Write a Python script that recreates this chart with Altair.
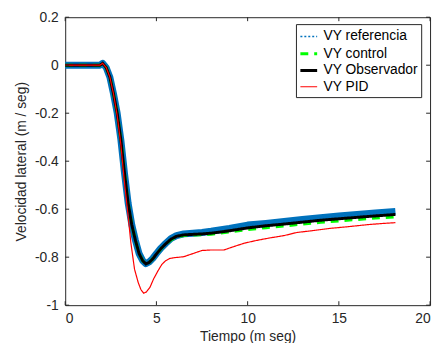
import altair as alt
import pandas as pd

# --- data ---
t_ref = [0, 1.0, 1.9, 2.05, 2.25, 2.45, 2.65, 2.85, 3.05, 3.25, 3.45, 3.65, 3.85, 4.05, 4.25, 4.42,
         4.6, 4.8, 5.0, 5.25, 5.5, 5.8, 6.1, 6.5, 7.0, 7.5, 8.0, 9.0, 10.0, 11.0, 12.0, 13.0, 14.0,
         15.0, 16.0, 17.0, 18.1]
vy_ref = [0, 0, 0, 0.008, -0.01, -0.05, -0.12, -0.20, -0.31, -0.45, -0.575, -0.665, -0.73, -0.785,
          -0.815, -0.827, -0.82, -0.805, -0.785, -0.762, -0.743, -0.722, -0.71, -0.703, -0.70,
          -0.697, -0.692, -0.68, -0.666, -0.659, -0.651, -0.643, -0.635, -0.628, -0.622, -0.616, -0.609]
vy_obs = [0, 0, 0, 0.008, -0.01, -0.05, -0.12, -0.20, -0.31, -0.45, -0.575, -0.665, -0.73, -0.785,
          -0.815, -0.828, -0.822, -0.807, -0.787, -0.764, -0.745, -0.725, -0.713, -0.707, -0.705,
          -0.703, -0.700, -0.690, -0.678, -0.669, -0.662, -0.654, -0.646, -0.640, -0.634, -0.628, -0.622]
vy_ctrl = [0, 0, 0, 0.008, -0.01, -0.05, -0.12, -0.20, -0.31, -0.45, -0.575, -0.665, -0.73, -0.785,
           -0.815, -0.828, -0.822, -0.807, -0.787, -0.765, -0.747, -0.728, -0.716, -0.71, -0.708,
           -0.707, -0.705, -0.695, -0.685, -0.677, -0.670, -0.662, -0.655, -0.649, -0.643, -0.637, -0.632]
t_pid = [0, 1.0, 1.9, 2.05, 2.25, 2.45, 2.65, 2.85, 3.05, 3.25, 3.45, 3.6, 3.8, 4.0, 4.15, 4.3, 4.45,
         4.65, 4.85, 5.1, 5.3, 5.5, 5.75, 6.0, 6.5, 7.0, 7.5, 8.0, 8.7, 9.2, 9.8, 10.5, 11.2, 12.0,
         12.7, 13.5, 14.5, 15.5, 16.5, 17.3, 18.1]
vy_pid = [0, 0, 0, 0.008, -0.01, -0.05, -0.12, -0.21, -0.33, -0.49, -0.63, -0.74, -0.85, -0.905,
          -0.935, -0.95, -0.945, -0.925, -0.89, -0.855, -0.83, -0.815, -0.805, -0.802, -0.798,
          -0.785, -0.772, -0.77, -0.77, -0.757, -0.742, -0.73, -0.72, -0.71, -0.697, -0.69, -0.68,
          -0.673, -0.665, -0.66, -0.656]

series = ["VY referencia", "VY control", "VY Observador", "VY PID"]
colors = ["#0072BD", "#00FF00", "#000000", "#FF0000"]
dashes = [[2, 2], [8, 6], [1, 0], [1, 0]]
widths = [1.5, 3, 3, 1.2]

x_ticks = [0, 5, 10, 15, 20]
y_ticks = [0.2, 0, -0.2, -0.4, -0.6, -0.8, -1]

frames = [
    pd.DataFrame({"t": t_ref, "v": vy_ref, "s": series[0]}),
    pd.DataFrame({"t": t_ref, "v": vy_ctrl, "s": series[1]}),
    pd.DataFrame({"t": t_ref, "v": vy_obs, "s": series[2]}),
    pd.DataFrame({"t": t_pid, "v": vy_pid, "s": series[3]}),
]

W, H = 370, 292
font = "Liberation Sans"

x_enc = alt.X("t:Q", scale=alt.Scale(domain=[0, 20], nice=False),
              axis=alt.Axis(values=x_ticks, format="d", title="Tiempo (m seg)", grid=False,
                            ticks=False, domain=False, labelPadding=7, titlePadding=4))
y_enc = alt.Y("v:Q", scale=alt.Scale(domain=[-1, 0.2], nice=False, zero=False),
              axis=alt.Axis(values=y_ticks, labelExpr="datum.value + ''",
                            title="Velocidad lateral (m / seg)", grid=False, ticks=False,
                            domain=False, labelPadding=7, titlePadding=6))

leg = alt.Legend(orient="none", legendX=234, legendY=7, title=None, strokeColor="#262626",
                 fillColor="white", padding=3, rowPadding=0, labelFontSize=14, labelFont=font,
                 labelColor="#000000", symbolType="stroke", symbolSize=289, labelOffset=5)

color_enc = alt.Color("s:N", scale=alt.Scale(type="ordinal", domain=series, range=colors), legend=leg)
dash_enc = alt.StrokeDash("s:N", scale=alt.Scale(type="ordinal", domain=series, range=dashes), legend=leg)
width_enc = alt.StrokeWidth("s:N", scale=alt.Scale(type="ordinal", domain=series, range=widths), legend=leg)

layers = []
# thick blue marker band of the reference series
layers.append(alt.Chart(frames[0]).mark_line(color="#0072BD", strokeWidth=7, strokeJoin="round")
              .encode(x=x_enc, y=y_enc))
for df in frames:
    layers.append(alt.Chart(df).mark_line().encode(x=x_enc, y=y_enc, color=color_enc,
                                                   strokeDash=dash_enc, strokeWidth=width_enc))

# inward ticks (MATLAB-style box)
xt = pd.DataFrame({"t": x_ticks})
yt = pd.DataFrame({"v": y_ticks})
tick_col = "#262626"
layers.append(alt.Chart(xt).mark_rule(color=tick_col).encode(x=x_enc, y=alt.value(H), y2=alt.value(H - 4)))
layers.append(alt.Chart(xt).mark_rule(color=tick_col).encode(x=x_enc, y=alt.value(0), y2=alt.value(4)))
layers.append(alt.Chart(yt).mark_rule(color=tick_col).encode(y=y_enc, x=alt.value(0), x2=alt.value(4)))
layers.append(alt.Chart(yt).mark_rule(color=tick_col).encode(y=y_enc, x=alt.value(W), x2=alt.value(W - 4)))

chart = alt.layer(*layers).properties(
    width=W, height=H,
    background="white",
    autosize=alt.AutoSizeParams(type="none"),
    padding={"left": 58, "top": 7, "right": 5, "bottom": 36},
).configure_view(stroke="#262626", strokeWidth=1).configure_axis(
    labelFont=font, labelFontSize=14, labelColor="#262626",
    titleFont=font, titleFontSize=14, titleFontWeight="normal", titleColor="#262626",
)

chart.save("out.html", embed_options={"renderer": "svg", "actions": False})
